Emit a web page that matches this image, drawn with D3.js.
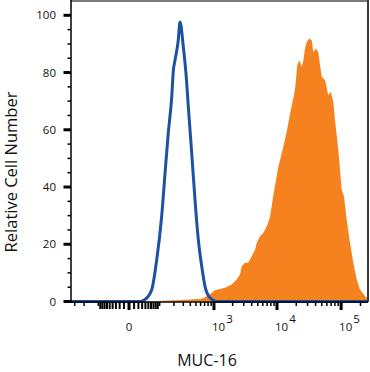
<!DOCTYPE html>
<html lang="en">
<head>
<meta charset="utf-8">
<title>MUC-16</title>
<script src="https://d3js.org/d3.v7.min.js"></script>
<style>
body { margin:0; background:#fff; }
svg { display:block; }
.lbl { font-family:'Open Sans', sans-serif; font-size:11.5px; fill:#111; }
.title { font-family:'Open Sans', sans-serif; fill:#111; }
</style>
</head>
<body>
<div id="chart"></div>
<script>
// isotype control (blue outline)
var isoX = [-350, 24, 39, 63, 85, 111, 132, 154, 181, 195, 210, 242, 261, 300, 335, 369, 423, 482, 549, 627, 711, 860, 1108, 262144];
var isoY = [0, 0, 0.7, 4.2, 14.6, 29.7, 44.9, 58.8, 71.5, 80.8, 84.3, 91.3, 97.7, 89, 79.7, 68, 51.8, 35.5, 21.6, 12.3, 5.3, 1.3, 0, 0];

// MUC-16 stained (orange fill)
var mucX = [56, 119, 261, 395, 627, 807, 1040, 1509, 1932, 2321, 2620, 2787, 3144, 3544, 4010, 4520, 4805, 5415, 6101, 6900, 7770,
  8755, 10485, 12550, 14185, 15970, 17980, 19115, 20765, 22305, 24320, 25755, 27375, 29095, 31935, 34815, 36875, 40630, 44125,
  46895, 49835, 56100, 63150, 68800, 75550, 80300, 90400, 102150, 110900, 122150, 137500, 154800, 174900, 196800, 235450, 262144];
var mucY = [0, 0.3, 0.5, 0.7, 1.0, 2.1, 3.9, 4.8, 5.9, 7.7, 9.4, 12.3, 13.5, 13.5, 15.8, 18.1, 20.4, 22.8, 23.9, 26.2, 29.5,
  37, 47, 54, 59.3, 65.5, 71, 74, 82.6, 84.3, 82, 84, 88.4, 90.7, 91.9, 91.3, 87.2, 88.4, 87.2,
  82.6, 78.5, 77.4, 72.1, 73.3, 69.8, 63.4, 53, 39, 36.7, 28.6, 20.4, 13.5, 7.7, 4.2, 1.8, 0.8];

var yTicks = [0, 20, 40, 60, 80, 100];
var xTickValues = [0, 1000, 10000, 100000];
var xTickExp = ["", "3", "4", "5"];

var W = 370, H = 372;
var L = 71, R = 368, T = 1, B = 301.5;

var svg = d3.select("#chart").append("svg").attr("width", W).attr("height", H);

var x = d3.scaleSymlog().constant(50).domain([-350, 262144]).range([L, R]);
var y = d3.scaleLinear().domain([0, 105]).range([B, T]);

// orange histogram
var area = d3.area()
  .x(function(d){ return x(d[0]); })
  .y0(y(0))
  .y1(function(d){ return y(d[1]); });
svg.append("path")
  .datum(mucX.map(function(v,i){ return [v, mucY[i]]; }))
  .attr("d", area)
  .attr("fill", "#f5821f");

// blue isotype
var line = d3.line()
  .x(function(d){ return x(d[0]); })
  .y(function(d){ return y(d[1]); })
  .curve(d3.curveMonotoneX);
svg.append("path")
  .datum(isoX.map(function(v,i){ return [v, isoY[i]]; }))
  .attr("d", line)
  .attr("fill", "none")
  .attr("stroke", "#1d52a2")
  .attr("stroke-width", 3)
  .attr("stroke-linejoin", "round");

// frame
svg.append("line").attr("x1", L).attr("x2", R + 1).attr("y1", 1).attr("y2", 1)
  .attr("stroke", "#7a7a7a").attr("stroke-width", 2);
svg.append("line").attr("x1", R).attr("x2", R).attr("y1", 0).attr("y2", 302)
  .attr("stroke", "#3a3a3a").attr("stroke-width", 2);
svg.append("line").attr("x1", L).attr("x2", L).attr("y1", 0).attr("y2", 302.5)
  .attr("stroke", "#000").attr("stroke-width", 1.5);
svg.append("line").attr("x1", L - 7).attr("x2", R).attr("y1", 302).attr("y2", 302)
  .attr("stroke", "#000").attr("stroke-width", 1.5);

// y ticks
var yMinor = d3.range(5, 101, 5).filter(function(v){ return v % 20 != 0; });
svg.selectAll(".yminor").data(yMinor).enter().append("line")
  .attr("x1", L - 3.5).attr("x2", L).attr("y1", y).attr("y2", y)
  .attr("stroke", "#000").attr("stroke-width", 1.5);
svg.selectAll(".ymajor").data(yTicks).enter().append("line")
  .attr("x1", L - 7.5).attr("x2", L).attr("y1", y).attr("y2", y)
  .attr("stroke", "#000").attr("stroke-width", 3);
svg.selectAll(".ylbl").data(yTicks).enter().append("text")
  .attr("class", "lbl")
  .attr("x", 56).attr("y", function(d){ return y(d); }).attr("dy", "0.35em")
  .attr("text-anchor", "end")
  .text(function(d){ return d; });

// x ticks (logicle style)
var xMinor = [];
[-1, 1].forEach(function(s){
  [10, 100, 1000, 10000, 100000].forEach(function(dec){
    for (var k = 1; k < 10; k++) {
      var v = s * k * dec;
      if (v > -350 && v < 262144 && xTickValues.indexOf(v) == -1) xMinor.push(v);
    }
  });
});
svg.selectAll(".xminor").data(xMinor).enter().append("line")
  .attr("x1", x).attr("x2", x).attr("y1", 302).attr("y2", function(d){ return Math.abs(d) < 100 ? 309 : 306; })
  .attr("stroke", "#000").attr("stroke-width", function(d){ return Math.abs(d) < 100 ? 2 : 1.5; });
svg.selectAll(".xmajor").data(xTickValues).enter().append("line")
  .attr("x1", x).attr("x2", x).attr("y1", 302).attr("y2", 310)
  .attr("stroke", "#000").attr("stroke-width", 3);

var xl = svg.selectAll(".xlbl").data(xTickValues).enter().append("text")
  .attr("class", "lbl")
  .attr("x", function(d, i){ return i == 0 ? x(d) : x(d) - 2; })
  .attr("y", 331)
  .attr("text-anchor", function(d, i){ return i == 0 ? "middle" : "start"; });
xl.append("tspan").text(function(d, i){ return i == 0 ? "0" : "10"; });
xl.append("tspan").attr("dy", -8).attr("dx", 1).text(function(d, i){ return xTickExp[i]; });

// axis titles
svg.append("text").attr("class", "title")
  .attr("transform", "translate(17,172) rotate(-90)")
  .attr("text-anchor", "middle").style("font-size", "16.5px")
  .text("Relative Cell Number");
svg.append("text").attr("class", "title")
  .attr("x", 207).attr("y", 366)
  .attr("text-anchor", "middle").style("font-size", "16px")
  .text("MUC-16");
</script>
</body>
</html>
